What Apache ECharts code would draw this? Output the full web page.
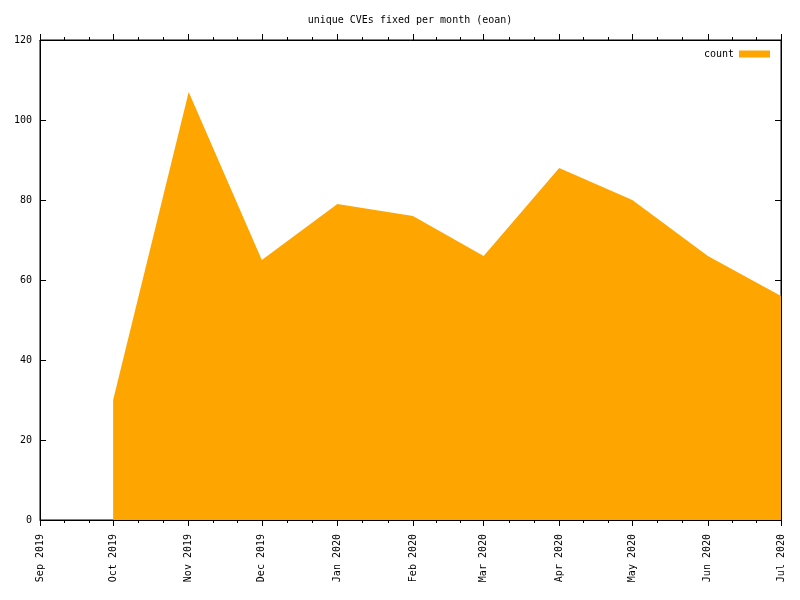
<!DOCTYPE html>
<html>
<head>
<meta charset="utf-8">
<script src="https://cdn.jsdelivr.net/npm/echarts@6/dist/echarts.min.js"></script>
<style>html,body{margin:0;padding:0;background:#fff;}#c{width:800px;height:600px;}</style>
</head>
<body>
<div id="c"></div>
<script>
var months = ['2019-10-01','2019-11-01','2019-12-01','2020-01-01','2020-02-01','2020-03-01','2020-04-01','2020-05-01','2020-06-01','2020-07-01'];
var counts = [30, 107, 65, 79, 76, 66, 88, 80, 66, 56];
var xMinDate = '2019-09-01';
var xMaxDate = '2020-07-01';
var yTicks = [0, 20, 40, 60, 80, 100, 120];
var titleText = 'unique CVEs fixed per month (eoan)';
var seriesName = 'count';

function ts(s){ var p = s.split('-'); return Date.UTC(+p[0], +p[1]-1, +p[2]); }
var DAY = 86400000;
var FONT = 'DejaVu Sans Mono';
var seriesData = months.map(function(m, i){ return [ts(m), counts[i]]; });

var chart = echarts.init(document.getElementById('c'), null, {renderer: 'canvas'});
function makeX(pos, showLabel){
  return {
    type: 'time', position: pos, min: ts(xMinDate), max: ts(xMaxDate),
    splitNumber: 10, minInterval: 28*DAY, maxInterval: 31*DAY,
    axisLine: {show: true, onZero: false, lineStyle: {color: '#000', width: 1}},
    axisTick: {show: true, inside: false, length: 6, lineStyle: {color: '#000'}},
    minorTick: {show: true, splitNumber: 3, length: 3, lineStyle: {color: '#000'}},
    splitLine: {show: false}, minorSplitLine: {show: false},
    axisLabel: showLabel ? {show: true, rotate: 90, margin: 14, formatter: '{MMM} {yyyy}', fontFamily: FONT, fontSize: 10, color: '#000', hideOverlap: false, showMinLabel: true, showMaxLabel: true} : {show: false}
  };
}
function makeY(pos, showLabel){
  return {
    type: 'value', position: pos, min: yTicks[0], max: yTicks[yTicks.length-1], interval: yTicks[1]-yTicks[0],
    axisLine: {show: true, onZero: false, lineStyle: {color: '#000', width: 1}},
    axisTick: {show: true, inside: true, length: 6, lineStyle: {color: '#000'}},
    splitLine: {show: false},
    axisLabel: showLabel ? {show: true, margin: 8, fontFamily: FONT, fontSize: 10, color: '#000'} : {show: false}
  };
}

chart.setOption({
  animation: false,
  useUTC: true,
  backgroundColor: '#fff',
  title: {text: titleText, left: 410, top: 15, textAlign: 'center', padding: 0,
    textStyle: {fontFamily: FONT, fontSize: 10, fontWeight: 'normal', color: '#000'}},
  legend: {right: 30, top: 49, padding: 0, align: 'right', icon: 'rect', itemWidth: 31, itemHeight: 7, itemGap: 7,
    textStyle: {fontFamily: FONT, fontSize: 10, color: '#000'}, data: [seriesName]},
  grid: {left: 40, right: 19, top: 40, bottom: 80, containLabel: false,
    show: true, borderColor: '#000', borderWidth: 1, backgroundColor: 'transparent'},
  xAxis: [makeX('bottom', true), makeX('top', false)],
  yAxis: [makeY('left', true), makeY('right', false)],
  series: [{
    name: seriesName, type: 'line', xAxisIndex: 0, yAxisIndex: 0,
    data: seriesData, showSymbol: false, symbol: 'none',
    lineStyle: {width: 0, color: '#FFA500'}, itemStyle: {color: '#FFA500'},
    areaStyle: {color: '#FFA500', opacity: 1}, z: 1
  }, {
    name: 'mirror', type: 'line', xAxisIndex: 1, yAxisIndex: 1,
    data: seriesData, showSymbol: false, symbol: 'none', silent: true,
    lineStyle: {width: 0, opacity: 0}, itemStyle: {opacity: 0}, z: 0
  }]
});
</script>
</body>
</html>
